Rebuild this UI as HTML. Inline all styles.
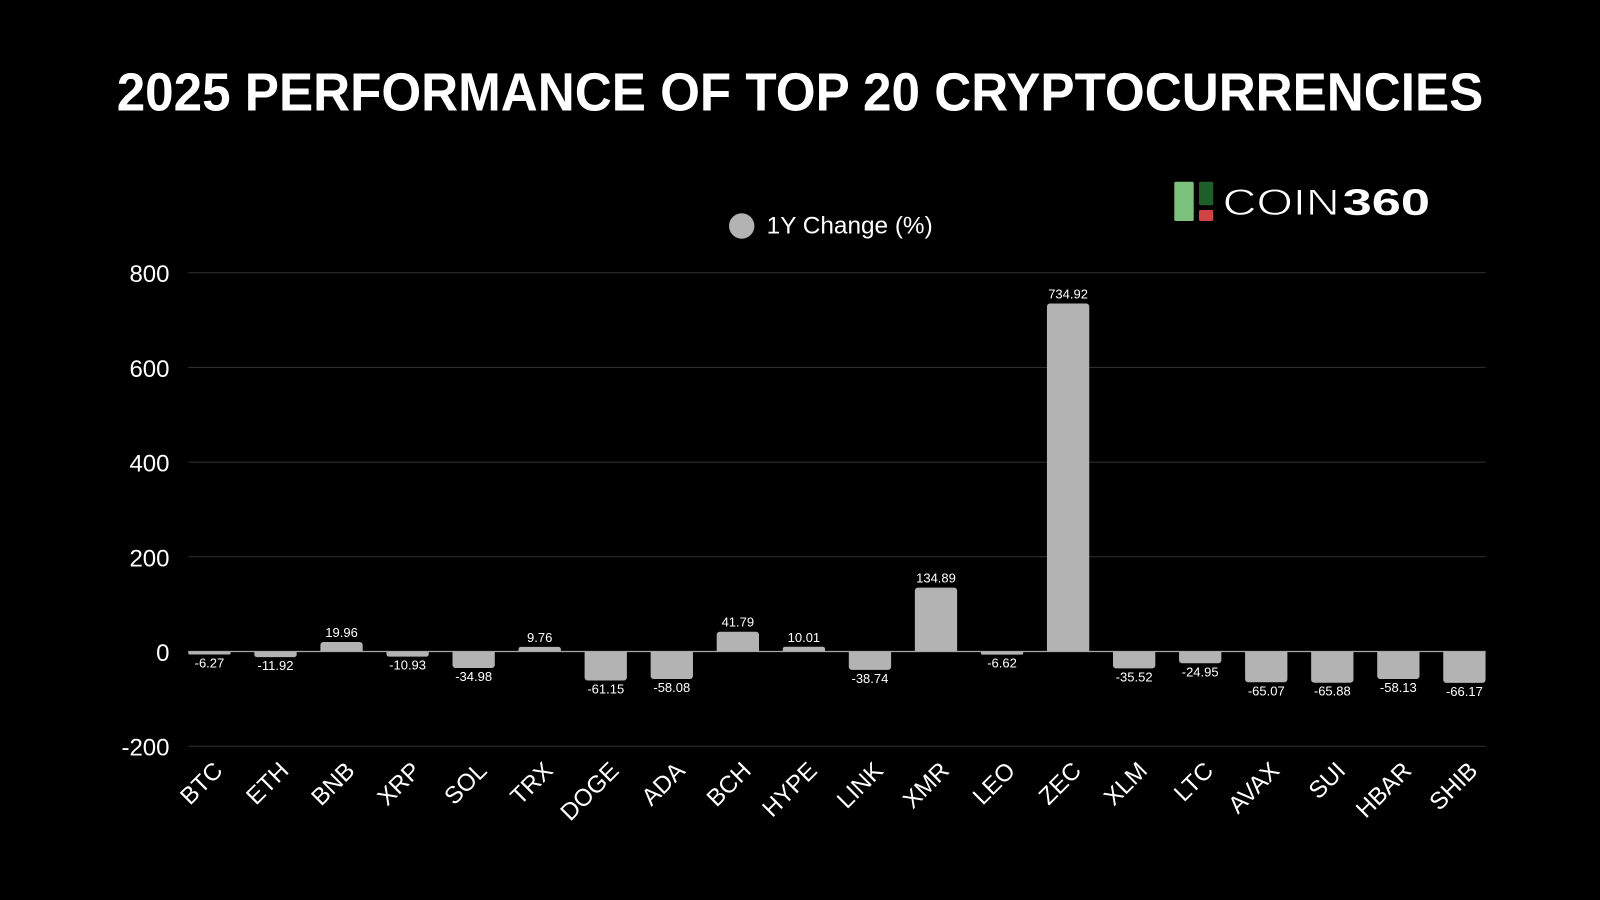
<!DOCTYPE html>
<html>
<head>
<meta charset="utf-8">
<style>
  html, body { margin:0; padding:0; background:#000; }
  body { width:1600px; height:900px; overflow:hidden; }
  svg { display:block; }
  text { font-family: "Liberation Sans", "DejaVu Sans", sans-serif; }
</style>
</head>
<body>
<svg width="1600" height="900" viewBox="0 0 1600 900" xmlns="http://www.w3.org/2000/svg">
  <rect x="0" y="0" width="1600" height="900" fill="#000"/>

  <!-- Title -->
  <text x="116.7" y="110.7" font-size="54" font-weight="bold" fill="#fff" textLength="1366.6" lengthAdjust="spacingAndGlyphs">2025 PERFORMANCE OF TOP 20 CRYPTOCURRENCIES</text>

  <!-- Logo -->
  <rect x="1174.3" y="181.7" width="19.4" height="39.3" rx="1.5" fill="#7dc17f"/>
  <rect x="1199" y="181.7" width="14.3" height="23.6" rx="1.5" fill="#1e5e2a"/>
  <rect x="1199" y="210" width="14.3" height="11" rx="1.5" fill="#d04444"/>
  <text x="1222.7" y="215" font-size="37" fill="#fff" stroke="#000" stroke-width="0.9" textLength="117" lengthAdjust="spacingAndGlyphs">COIN</text>
  <text x="1342.7" y="215" font-size="37" font-weight="bold" fill="#fff" textLength="87.3" lengthAdjust="spacingAndGlyphs">360</text>

  <!-- Legend -->
  <circle cx="741.7" cy="226" r="12.7" fill="#b3b3b3"/>
  <text x="766.7" y="233.5" font-size="24" fill="#fff" textLength="166" lengthAdjust="spacingAndGlyphs">1Y Change (%)</text>

  <!-- Grid lines -->
  <g stroke="#333" stroke-width="1">
    <line x1="188.3" y1="272.7" x2="1485.7" y2="272.7"/>
    <line x1="188.3" y1="367.4" x2="1485.7" y2="367.4"/>
    <line x1="188.3" y1="462.1" x2="1485.7" y2="462.1"/>
    <line x1="188.3" y1="556.8" x2="1485.7" y2="556.8"/>
    <line x1="188.3" y1="746.2" x2="1485.7" y2="746.2"/>
  </g>

  <!-- Y labels -->
  <g font-size="24" fill="#fff" text-anchor="end">
    <text x="169.5" y="282.2">800</text>
    <text x="169.5" y="376.9">600</text>
    <text x="169.5" y="471.6">400</text>
    <text x="169.5" y="566.3">200</text>
    <text x="169.5" y="661">0</text>
    <text x="169.5" y="755.7">-200</text>
  </g>

  <!-- Bars -->
  <g fill="#b3b3b3">
    <!-- BTC -6.27 -->
    <path d="M188.3 651.5 V653.07 A1.4 1.4 0 0 0 189.7 654.47 H229.2 A1.4 1.4 0 0 0 230.6 653.07 V651.5 Z"/>
    <!-- ETH -11.92 -->
    <path d="M254.35 651.5 V654.64 A2.5 2.5 0 0 0 256.85 657.14 H294.15 A2.5 2.5 0 0 0 296.65 654.64 V651.5 Z"/>
    <!-- BNB 19.96 -->
    <path d="M320.4 651.5 V645.05 A3 3 0 0 1 323.4 642.05 H359.7 A3 3 0 0 1 362.7 645.05 V651.5 Z"/>
    <!-- XRP -10.93 -->
    <path d="M386.45 651.5 V654.18 A2.5 2.5 0 0 0 388.95 656.68 H426.25 A2.5 2.5 0 0 0 428.75 654.18 V651.5 Z"/>
    <!-- SOL -34.98 -->
    <path d="M452.5 651.5 V665.06 A3 3 0 0 0 455.5 668.06 H491.8 A3 3 0 0 0 494.8 665.06 V651.5 Z"/>
    <!-- TRX 9.76 -->
    <path d="M518.55 651.5 V649.18 A2.3 2.3 0 0 1 520.85 646.88 H558.55 A2.3 2.3 0 0 1 560.85 649.18 V651.5 Z"/>
    <!-- DOGE -61.15 -->
    <path d="M584.6 651.5 V677.45 A3 3 0 0 0 587.6 680.45 H623.9 A3 3 0 0 0 626.9 677.45 V651.5 Z"/>
    <!-- ADA -58.08 -->
    <path d="M650.65 651.5 V676 A3 3 0 0 0 653.65 679 H689.95 A3 3 0 0 0 692.95 676 V651.5 Z"/>
    <!-- BCH 41.79 -->
    <path d="M716.7 651.5 V634.71 A3 3 0 0 1 719.7 631.71 H756 A3 3 0 0 1 759 634.71 V651.5 Z"/>
    <!-- HYPE 10.01 -->
    <path d="M782.75 651.5 V649.06 A2.3 2.3 0 0 1 785.05 646.76 H822.75 A2.3 2.3 0 0 1 825.05 649.06 V651.5 Z"/>
    <!-- LINK -38.74 -->
    <path d="M848.8 651.5 V666.84 A3 3 0 0 0 851.8 669.84 H888.1 A3 3 0 0 0 891.1 666.84 V651.5 Z"/>
    <!-- XMR 134.89 -->
    <path d="M914.85 651.5 V590.63 A3 3 0 0 1 917.85 587.63 H954.15 A3 3 0 0 1 957.15 590.63 V651.5 Z"/>
    <!-- LEO -6.62 -->
    <path d="M980.9 651.5 V653.13 A1.5 1.5 0 0 0 982.4 654.63 H1021.7 A1.5 1.5 0 0 0 1023.2 653.13 V651.5 Z"/>
    <!-- ZEC 734.92 -->
    <path d="M1046.95 651.5 V306.52 A3 3 0 0 1 1049.95 303.52 H1086.25 A3 3 0 0 1 1089.25 306.52 V651.5 Z"/>
    <!-- XLM -35.52 -->
    <path d="M1113 651.5 V665.32 A3 3 0 0 0 1116 668.32 H1152.3 A3 3 0 0 0 1155.3 665.32 V651.5 Z"/>
    <!-- LTC -24.95 -->
    <path d="M1179.05 651.5 V660.31 A3 3 0 0 0 1182.05 663.31 H1218.35 A3 3 0 0 0 1221.35 660.31 V651.5 Z"/>
    <!-- AVAX -65.07 -->
    <path d="M1245.1 651.5 V679.31 A3 3 0 0 0 1248.1 682.31 H1284.4 A3 3 0 0 0 1287.4 679.31 V651.5 Z"/>
    <!-- SUI -65.88 -->
    <path d="M1311.15 651.5 V679.69 A3 3 0 0 0 1314.15 682.69 H1350.45 A3 3 0 0 0 1353.45 679.69 V651.5 Z"/>
    <!-- HBAR -58.13 -->
    <path d="M1377.2 651.5 V676.02 A3 3 0 0 0 1380.2 679.02 H1416.5 A3 3 0 0 0 1419.5 676.02 V651.5 Z"/>
    <!-- SHIB -66.17 -->
    <path d="M1443.25 651.5 V679.83 A3 3 0 0 0 1446.25 682.83 H1482.55 A3 3 0 0 0 1485.55 679.83 V651.5 Z"/>
  </g>

  <!-- Zero line -->
  <line x1="188.3" y1="651.5" x2="1485.7" y2="651.5" stroke="#a8a8a8" stroke-width="1.2"/>

  <!-- Value labels -->
  <g font-size="13" fill="#fff" text-anchor="middle">
    <text x="209.45" y="667.5">-6.27</text>
    <text x="275.5" y="670.1">-11.92</text>
    <text x="341.55" y="637">19.96</text>
    <text x="407.6" y="669.7">-10.93</text>
    <text x="473.65" y="681.1">-34.98</text>
    <text x="539.7" y="641.9">9.76</text>
    <text x="605.75" y="693.5">-61.15</text>
    <text x="671.8" y="692">-58.08</text>
    <text x="737.85" y="626.7">41.79</text>
    <text x="803.9" y="641.8">10.01</text>
    <text x="869.95" y="682.8">-38.74</text>
    <text x="936" y="582.6">134.89</text>
    <text x="1002.05" y="667.6">-6.62</text>
    <text x="1068.1" y="298.5">734.92</text>
    <text x="1134.15" y="681.3">-35.52</text>
    <text x="1200.2" y="676.3">-24.95</text>
    <text x="1266.25" y="695.3">-65.07</text>
    <text x="1332.3" y="695.7">-65.88</text>
    <text x="1398.35" y="692">-58.13</text>
    <text x="1464.4" y="695.8">-66.17</text>
  </g>

  <!-- X labels -->
  <g font-size="24" fill="#fff" text-anchor="end">
    <text transform="translate(223.95,772) rotate(-45)">BTC</text>
    <text transform="translate(290,772) rotate(-45)">ETH</text>
    <text transform="translate(356.05,772) rotate(-45)">BNB</text>
    <text transform="translate(422.1,772) rotate(-45)">XRP</text>
    <text transform="translate(488.15,772) rotate(-45)">SOL</text>
    <text transform="translate(554.2,772) rotate(-45)">TRX</text>
    <text transform="translate(620.25,772) rotate(-45)">DOGE</text>
    <text transform="translate(686.3,772) rotate(-45)">ADA</text>
    <text transform="translate(752.35,772) rotate(-45)">BCH</text>
    <text transform="translate(818.4,772) rotate(-45)">HYPE</text>
    <text transform="translate(884.45,772) rotate(-45)">LINK</text>
    <text transform="translate(950.5,772) rotate(-45)">XMR</text>
    <text transform="translate(1016.55,772) rotate(-45)">LEO</text>
    <text transform="translate(1082.6,772) rotate(-45)">ZEC</text>
    <text transform="translate(1148.65,772) rotate(-45)">XLM</text>
    <text transform="translate(1214.7,772) rotate(-45)">LTC</text>
    <text transform="translate(1280.75,772) rotate(-45)">AVAX</text>
    <text transform="translate(1346.8,772) rotate(-45)">SUI</text>
    <text transform="translate(1412.85,772) rotate(-45)">HBAR</text>
    <text transform="translate(1478.9,772) rotate(-45)">SHIB</text>
  </g>
</svg>
</body>
</html>
